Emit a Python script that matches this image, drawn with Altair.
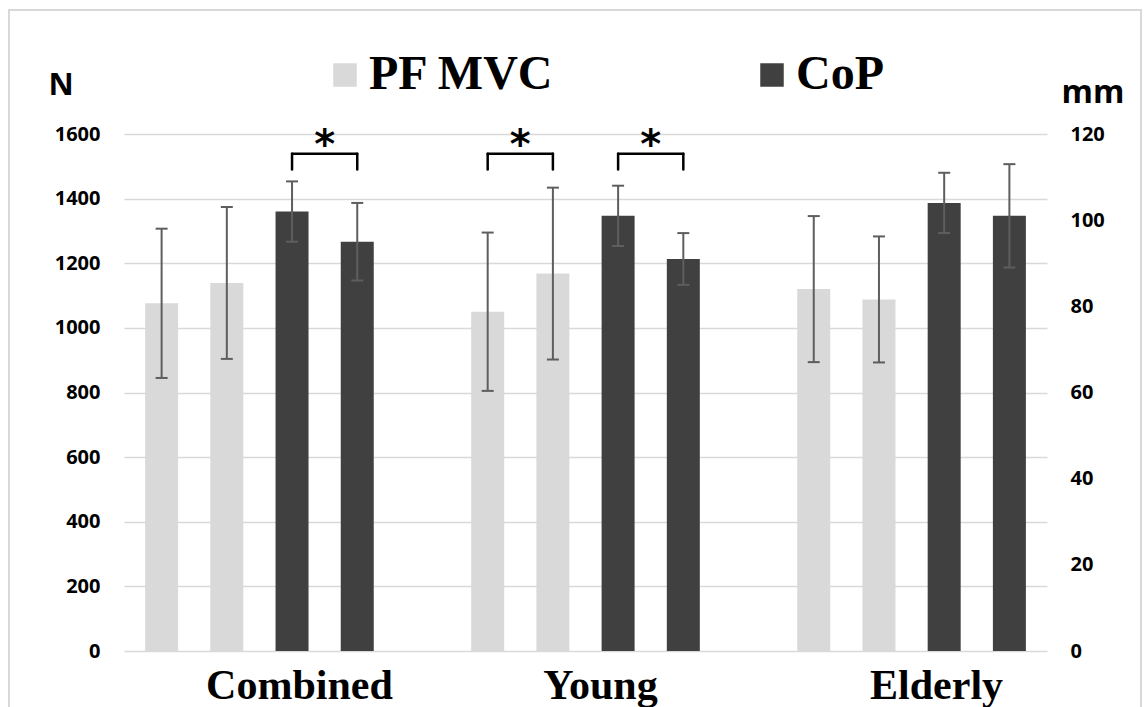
import altair as alt
import pandas as pd

# ---------------- data ----------------
groups = ["Combined", "Young", "Elderly"]
series = ["PF MVC", "CoP"]
bar_group = ["Combined", "Combined", "Young", "Young", "Elderly", "Elderly"]
pf_mvc_mean = [1076, 1139, 1050, 1168, 1120, 1088]   # N
pf_mvc_sd = [231, 235, 245, 266, 226, 195]
cop_mean = [102, 95, 101, 91, 104, 101]               # mm
cop_sd = [7, 9, 7, 6, 7, 12]
left_ticks = [0, 200, 400, 600, 800, 1000, 1200, 1400, 1600]
right_ticks = [0, 20, 40, 60, 80, 100, 120]
sig_pairs = [("Combined", "CoP"), ("Young", "PF MVC"), ("Young", "CoP")]

# ---------------- layout / style constants ----------------
SLOTS_PER_GROUP = 5
BRACKET_TOP = 1539
BRACKET_BOTTOM = 1490
LABEL_DX = [40, 15, 25]
W, H = 923, 517
PAD = {"left": 124, "top": 134, "right": 97, "bottom": 56}
LIGHT, DARK = "#D9D9D9", "#404040"
ERR = "#5E5E5E"


def build(means, sds, s_index):
    rows = []
    k_in_group = {}
    for g, m, sd in zip(bar_group, means, sds):
        k = k_in_group.get(g, 0)
        k_in_group[g] = k + 1
        pos = groups.index(g) * SLOTS_PER_GROUP + 2 * s_index + k
        rows.append({"group": g, "series": series[s_index], "pos": pos,
                     "mean": m, "lo": m - sd, "hi": m + sd})
    return pd.DataFrame(rows)


df_pf = build(pf_mvc_mean, pf_mvc_sd, 0)
df_cop = build(cop_mean, cop_sd, 1)

br_rows, leg_rows = [], []
for g, s in sig_pairs:
    base = groups.index(g) * SLOTS_PER_GROUP + 2 * series.index(s)
    x1, x2 = base, base + 1
    br_rows.append({"x1": x1, "x2": x2, "mid": (x1 + x2) / 2,
                    "top": BRACKET_TOP, "star": "*"})
    for xx in (x1, x2):
        leg_rows.append({"x": xx, "top": BRACKET_TOP, "bottom": BRACKET_BOTTOM})
df_br = pd.DataFrame(br_rows)
df_leg = pd.DataFrame(leg_rows)

# ---------------- scales / axes ----------------
x_scale = alt.Scale(domain=[-0.5, 13.5], nice=False, zero=False)


def X(f):
    return alt.X(f"{f}:Q", scale=x_scale, axis=None)


left_axis = alt.Axis(values=left_ticks, format="d", grid=True, gridColor="#D9D9D9",
                     gridWidth=1.5, domain=False, ticks=False, labelFont="Open Sans",
                     labelFontWeight="bold", labelFontSize=20, labelColor="black",
                     labelPadding=24, title="N", titleAngle=0, titleAlign="left",
                     titleBaseline="alphabetic", titleX=-76, titleY=-40,
                     titleFont="Open Sans", titleFontWeight="bold", titleFontSize=31,
                     titleColor="black", orient="left")
right_axis = alt.Axis(values=right_ticks, format="d", grid=False, domain=False, ticks=False,
                      labelFont="Open Sans", labelFontWeight="bold", labelFontSize=20,
                      labelColor="black", labelPadding=23, title="mm", titleAngle=0,
                      titleAlign="left", titleBaseline="alphabetic", titleX=14,
                      titleY=-32, titleFont="Open Sans", titleFontWeight="bold",
                      titleFontSize=32, titleColor="black", orient="right")


def YL(f):
    return alt.Y(f"{f}:Q", scale=alt.Scale(domain=[0, 1600], nice=False), axis=left_axis)


def YR(f):
    return alt.Y(f"{f}:Q", scale=alt.Scale(domain=[0, 120], nice=False), axis=right_axis)


legend = alt.Legend(orient="none", legendX=197, legendY=-83, direction="horizontal",
                    title=None, labelFont="Liberation Serif", labelFontWeight="bold",
                    labelFontSize=48, labelColor="black", labelLimit=400,
                    symbolType="square", symbolSize=552, symbolStrokeWidth=0,
                    symbolOpacity=1, labelOffset=0, columnPadding=193, padding=0)
color = alt.Color("series:N", scale=alt.Scale(domain=series, range=[LIGHT, DARK]),
                  legend=legend)

# ---------------- left (N) layer ----------------
pf_bars = alt.Chart(df_pf).mark_bar(size=33).encode(x=X("pos"), y=YL("mean"), color=color)
pf_err = alt.Chart(df_pf).mark_rule(color=ERR, strokeWidth=2).encode(
    x=X("pos"), y=YL("lo"), y2="hi")
pf_cap_hi = alt.Chart(df_pf).mark_tick(orient="horizontal", size=12, thickness=2,
                                       color=ERR, opacity=1).encode(x=X("pos"), y=YL("hi"))
pf_cap_lo = alt.Chart(df_pf).mark_tick(orient="horizontal", size=12, thickness=2,
                                       color=ERR, opacity=1).encode(x=X("pos"), y=YL("lo"))

br_h = alt.Chart(df_br).mark_rule(color="black", strokeWidth=2.5, strokeCap="round").encode(
    x=X("x1"), x2="x2", y=YL("top"))
br_legs = alt.Chart(df_leg).mark_rule(color="black", strokeWidth=2.5, strokeCap="round").encode(
    x=X("x"), y=YL("top"), y2="bottom")
stars = alt.Chart(df_br).mark_text(font="DejaVu Sans", fontWeight="bold", fontSize=40,
                                   baseline="alphabetic", dy=4, color="black").encode(
    x=X("mid"), y=YL("top"), text="star:N")

label_layers = []
for i, g in enumerate(groups):
    d = pd.DataFrame({"g": [g], "c": [i * SLOTS_PER_GROUP + 1.5]})
    label_layers.append(
        alt.Chart(d).mark_text(font="Liberation Serif", fontWeight="bold", fontSize=42,
                               baseline="alphabetic", align="center", dx=LABEL_DX[i],
                               color="black").encode(
            x=X("c"), y=alt.value(H + 48), text="g:N"))

left_layer = alt.layer(pf_bars, pf_err, pf_cap_hi, pf_cap_lo, br_h, br_legs, stars,
                       *label_layers)

# ---------------- right (mm) layer ----------------
cop_bars = alt.Chart(df_cop).mark_bar(size=33).encode(x=X("pos"), y=YR("mean"), color=color)
cop_err = alt.Chart(df_cop).mark_rule(color=ERR, strokeWidth=2).encode(
    x=X("pos"), y=YR("lo"), y2="hi")
cop_cap_hi = alt.Chart(df_cop).mark_tick(orient="horizontal", size=12, thickness=2,
                                         color=ERR, opacity=1).encode(x=X("pos"), y=YR("hi"))
cop_cap_lo = alt.Chart(df_cop).mark_tick(orient="horizontal", size=12, thickness=2,
                                         color=ERR, opacity=1).encode(x=X("pos"), y=YR("lo"))
right_layer = alt.layer(cop_bars, cop_err, cop_cap_hi, cop_cap_lo)

# ---------------- outer frame ----------------
frame = alt.Chart(pd.DataFrame({"a": [0]})).mark_rect(
    fillOpacity=0, stroke="#D9D9D9", strokeWidth=2).encode(
    x=alt.value(9 - PAD["left"]), x2=alt.value(1141 - PAD["left"]),
    y=alt.value(10 - PAD["top"]), y2=alt.value(720 - PAD["top"]))

chart = alt.layer(frame, left_layer, right_layer).resolve_scale(
    y="independent").properties(
    width=W, height=H, autosize=alt.AutoSizeParams(type="none"), padding=PAD,
    background="white").configure_view(stroke=None)

chart.save("out.html", embed_options={"renderer": "svg", "actions": False})
